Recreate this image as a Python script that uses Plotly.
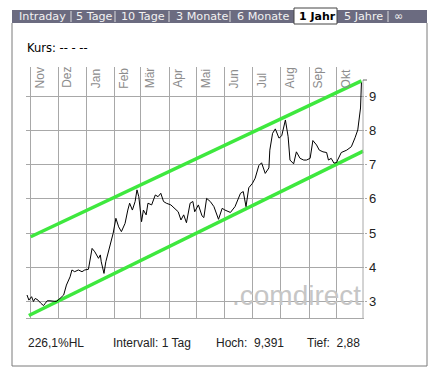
import plotly.graph_objects as go

# ---------------- data ----------------
dates = ["2006-10-28","2006-10-30","2006-11-02","2006-11-04","2006-11-06","2006-11-09","2006-11-12",
         "2006-11-15","2006-11-17","2006-11-19","2006-11-22","2006-11-26","2006-11-29","2006-12-03",
         "2006-12-07","2006-12-10","2006-12-14","2006-12-16","2006-12-19","2006-12-23","2006-12-27",
         "2006-12-30","2007-01-03","2007-01-07","2007-01-10","2007-01-14","2007-01-16","2007-01-17",
         "2007-01-20","2007-01-22","2007-01-26","2007-01-28","2007-01-30","2007-02-02","2007-02-05",
         "2007-02-08","2007-02-12","2007-02-15","2007-02-17","2007-02-20","2007-02-23","2007-02-25",
         "2007-02-27","2007-03-02","2007-03-04","2007-03-07","2007-03-09","2007-03-13","2007-03-17",
         "2007-03-20","2007-03-23","2007-03-26","2007-03-29","2007-04-03","2007-04-07","2007-04-11",
         "2007-04-14","2007-04-17","2007-04-20","2007-04-24","2007-04-27","2007-04-29","2007-05-03",
         "2007-05-07","2007-05-09","2007-05-12","2007-05-16","2007-05-20","2007-05-25","2007-05-29",
         "2007-06-01","2007-06-07","2007-06-12","2007-06-18","2007-06-21","2007-06-24","2007-06-27",
         "2007-07-01","2007-07-04","2007-07-08","2007-07-11","2007-07-15","2007-07-19","2007-07-20",
         "2007-07-23","2007-07-26","2007-07-30","2007-08-02","2007-08-06","2007-08-09","2007-08-11",
         "2007-08-15","2007-08-18","2007-08-22","2007-08-26","2007-08-29","2007-09-02","2007-09-05",
         "2007-09-09","2007-09-12","2007-09-16","2007-09-20","2007-09-22","2007-09-25","2007-09-28",
         "2007-10-01","2007-10-02","2007-10-06","2007-10-12","2007-10-17","2007-10-21","2007-10-24",
         "2007-10-27","2007-10-28"]
prices = [3.19,3.04,3.14,3.00,3.09,3.04,2.95,
          2.88,2.95,3.02,3.02,3.00,3.00,3.09,
          3.19,3.48,3.72,3.92,3.87,3.92,3.87,
          3.92,3.94,4.55,4.45,4.26,4.36,4.16,
          3.82,4.16,4.55,4.80,4.99,5.43,5.18,
          5.04,5.28,5.67,5.87,5.67,5.92,6.26,
          6.06,5.33,5.67,5.53,5.87,5.82,6.11,
          6.06,6.16,5.92,5.87,5.82,5.72,5.62,
          5.38,5.53,5.30,5.87,5.92,5.62,5.82,
          5.50,5.45,6.01,5.92,5.77,5.40,5.72,
          5.67,5.60,5.77,6.16,6.21,5.77,6.32,
          6.45,6.60,6.97,7.05,6.74,6.90,7.42,
          7.91,8.04,7.77,7.84,8.30,7.81,7.13,
          7.02,7.37,7.18,7.13,7.13,7.18,7.70,
          7.57,7.42,7.37,7.35,7.13,7.18,7.04,
          7.06,7.13,7.35,7.42,7.52,7.78,8.01,
          8.65,9.391]

upper_dates = ["2006-11-01", "2007-10-28"]
upper_vals = [4.89, 9.44]
lower_dates = ["2006-10-30", "2007-10-30"]
lower_vals = [2.59, 7.39]

month_starts = ["2006-11-01","2006-12-01","2007-01-01","2007-02-01","2007-03-01","2007-04-01",
                "2007-05-01","2007-06-01","2007-07-01","2007-08-01","2007-09-01","2007-10-01"]
month_labels = ["Nov","Dez","Jan","Feb","Mär","Apr","Mai","Jun","Jul","Aug","Sep","Okt"]
y_ticks = [3, 4, 5, 6, 7, 8, 9]

tab_labels = ["Intraday","5 Tage","10 Tage","3 Monate","6 Monate","1 Jahr","5 Jahre","∞"]
selected_tab = "1 Jahr"
footer_texts = ["226,1%HL","Intervall: 1 Tag","Hoch:  9,391","Tief:  2,88"]

# ---------------- layout helpers ----------------
W, H = 433, 373
def px(x): return x / W
def py(y): return 1 - y / H

fig = go.Figure()
fig.add_trace(go.Scatter(x=upper_dates, y=upper_vals, mode="lines",
                         line=dict(color="#3ee83e", width=3.5), hoverinfo="skip"))
fig.add_trace(go.Scatter(x=lower_dates, y=lower_vals, mode="lines",
                         line=dict(color="#3ee83e", width=3.5), hoverinfo="skip"))
fig.add_trace(go.Scatter(x=dates, y=prices, mode="lines",
                         line=dict(color="black", width=1)))

grid = "#a8a8a8"
shapes = []
annotations = []

# tab bar
shapes.append(dict(type="rect", xref="paper", yref="paper", x0=px(12), x1=px(427), y0=py(23), y1=py(10),
                   fillcolor="#6b6b80", line=dict(width=0), layer="above"))
tab_x = [17, 74, 119, 174, 235, 297, 342, 392]
sep_x = [71, 115, 169, 230, 388]
for sx in sep_x:
    shapes.append(dict(type="line", xref="paper", yref="paper", x0=px(sx), x1=px(sx), y0=py(22), y1=py(11),
                       line=dict(color="#dcdcdc", width=1), layer="above"))
shapes.append(dict(type="rect", xref="paper", yref="paper", x0=px(294), x1=px(337), y0=py(24), y1=py(8),
                   fillcolor="white", line=dict(color="#444", width=1), layer="above"))
for lab, tx in zip(tab_labels, tab_x):
    sel = lab == selected_tab
    annotations.append(dict(xref="paper", yref="paper", x=px(tx), y=py(16.5), xanchor="left", yanchor="middle",
                            text=("<b>%s</b>" % lab) if sel else lab, showarrow=False,
                            font=dict(family="DejaVu Sans", size=11.2 if not sel else 11,
                                      color="black" if sel else "#f2f2f2")))

# frame
for (x0, y0, x1, y1) in [(12, 23, 12, 366), (427, 23, 427, 366), (12, 366, 427, 366)]:
    shapes.append(dict(type="line", xref="paper", yref="paper", x0=px(x0), x1=px(x1), y0=py(y0), y1=py(y1),
                       line=dict(color="#7a7a7a", width=1)))

# right axis line + top tick
shapes.append(dict(type="line", xref="paper", yref="paper", x0=px(363), x1=px(363), y0=py(318), y1=py(80),
                   line=dict(color=grid, width=1)))
shapes.append(dict(type="line", xref="paper", yref="paper", x0=px(363), x1=px(367), y0=py(80), y1=py(80),
                   line=dict(color="#666", width=1)))

annotations.append(dict(xref="paper", yref="paper", x=px(25), y=py(48), xanchor="left", yanchor="middle",
                        text="Kurs: -- - --", showarrow=False,
                        font=dict(family="DejaVu Sans", size=11.5, color="black")))

# month labels
for d, lab in zip(month_starts, month_labels):
    annotations.append(dict(x=d, y=9.17, xref="x", yref="y", text=lab, textangle=-90, showarrow=False,
                            xanchor="left", yanchor="bottom", xshift=0,
                            font=dict(family="Liberation Sans", size=12, color="#8c8c8c")))

# watermark
annotations.append(dict(xref="paper", yref="paper", x=px(230), y=py(295), xanchor="left", yanchor="middle",
                        text=".comdirect", showarrow=False,
                        font=dict(family="Liberation Sans", size=28, color="#c6c6c6")))

# footer
foot_x = [26, 111, 214, 305]
for t, fx in zip(footer_texts, foot_x):
    annotations.append(dict(xref="paper", yref="paper", x=px(fx), y=py(343), xanchor="left", yanchor="middle",
                            text=t.replace("  ", "&nbsp;&nbsp;"), showarrow=False,
                            font=dict(family="Liberation Sans", size=12, color="#222")))

fig.update_layout(
    width=W, height=H, margin=dict(l=0, r=0, t=0, b=0),
    paper_bgcolor="white", plot_bgcolor="white", showlegend=False,
    shapes=shapes, annotations=annotations,
    xaxis=dict(type="date", domain=[px(26), px(363.5)],
               range=["2006-10-26 21:00", "2007-10-30 06:00"],
               tickvals=month_starts, showticklabels=False, ticks="",
               showgrid=True, gridcolor=grid, gridwidth=1,
               showline=True, linecolor=grid, linewidth=1, zeroline=False),
    yaxis=dict(side="right", domain=[py(318), py(67)], range=[2.518, 9.847],
               tickvals=y_ticks, ticktext=[str(v) for v in y_ticks],
               showgrid=True, gridcolor=grid, gridwidth=1, zeroline=False,
               ticks="outside", ticklen=2, tickcolor=grid,
               tickfont=dict(family="Liberation Sans", size=13, color="#222"), showline=False),
)

fig.write_html("out.html", config={"displayModeBar": False},
               post_script="document.body.style.margin='0';document.body.style.overflow='hidden';")
